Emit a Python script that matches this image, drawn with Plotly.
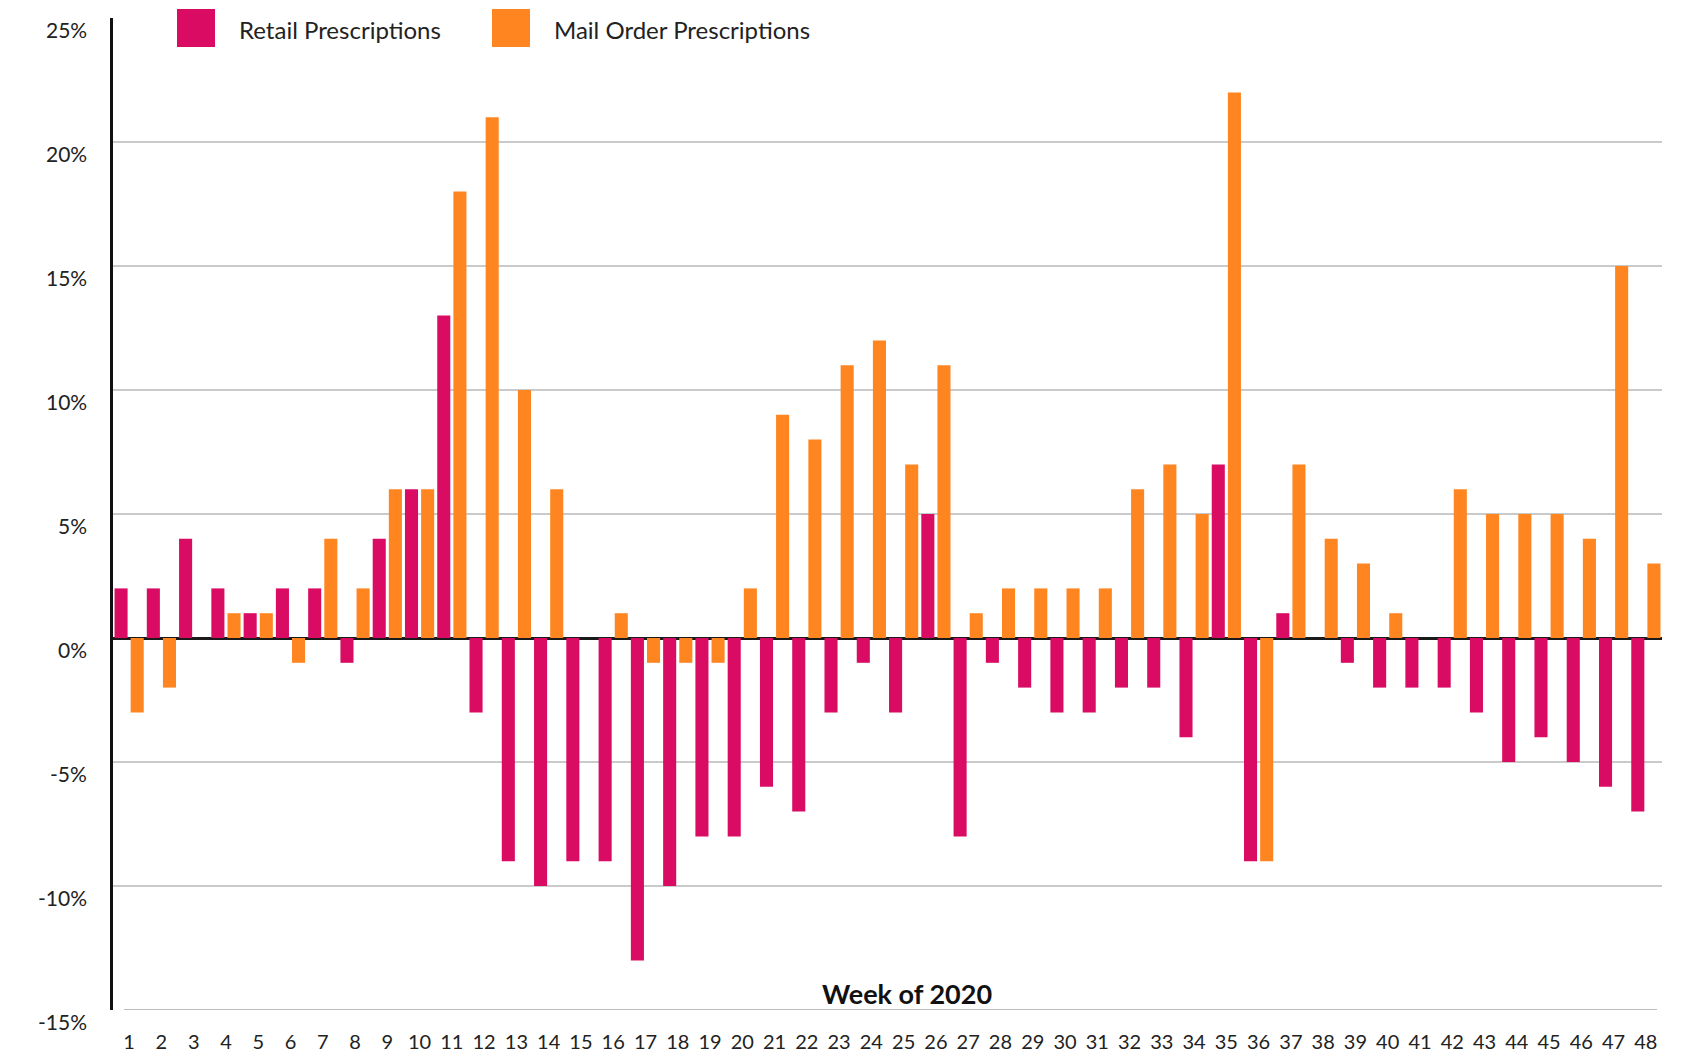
import plotly.graph_objects as go

weeks = [str(i) for i in range(1, 49)]
retail = [2, 2, 4, 2, 1, 2, 2, -1, 4, 6, 13, -3, -9, -10, -9, -9, -13, -10, -8, -8,
          -6, -7, -3, -1, -3, 5, -8, -1, -2, -3, -3, -2, -2, -4, 7, -9, 1, 0, -1, -2,
          -2, -2, -3, -5, -4, -5, -6, -7]
mail = [-3, -2, 0, 1, 1, -1, 4, 2, 6, 6, 18, 21, 10, 6, 0, 1, -1, -1, -1, 2,
        9, 8, 11, 12, 7, 11, 1, 2, 2, 2, 2, 6, 7, 5, 22, -9, 7, 4, 3, 1,
        0, 6, 5, 5, 5, 4, 15, 3]
y_ticks = [-15, -10, -5, 0, 5, 10, 15, 20, 25]
y_tick_text = [f"{v}%" for v in y_ticks]
series_names = ["Retail Prescriptions", "Mail Order Prescriptions"]
colors = ["#D90B63", "#FF8521"]

# page body has an 8px margin; figure offset accordingly
OFF = 8
W, H = 1677, 1045
L, R, T, B = 105, 23, 10, 43

fig = go.Figure()
fig.add_trace(go.Bar(x=weeks, y=retail, name=series_names[0], marker_color=colors[0],
                     marker_line_width=0, showlegend=False))
fig.add_trace(go.Bar(x=weeks, y=mail, name=series_names[1], marker_color=colors[1],
                     marker_line_width=0, showlegend=False))

font_family = "Lato, 'Open Sans', sans-serif"

fig.update_layout(
    width=W, height=H,
    margin=dict(l=L, r=R, t=T, b=B, pad=0, autoexpand=False),
    paper_bgcolor="white", plot_bgcolor="white",
    barmode="group", bargap=0, bargroupgap=0.19,
    font=dict(family=font_family, color="#222222"),
    xaxis=dict(type="category", tickfont=dict(size=20, color="#222222"),
               showgrid=False, showline=False, ticks="", zeroline=False,
               ticklabelstandoff=18, automargin=False),
    yaxis=dict(range=[-15, 25], tickvals=y_ticks, showticklabels=False,
               showgrid=True, gridcolor="#CACACA", gridwidth=1.5,
               zeroline=True, zerolinecolor="#1a1a1a", zerolinewidth=3,
               showline=True, linecolor="#111111", linewidth=2.5,
               ticks="", automargin=False),
)

plot_w = W - L - R
plot_h = H - T - B
def px_to_paper_x(px):
    return (px - OFF - L) / plot_w
def px_to_paper_y(py):
    return (H - B - (py - OFF)) / plot_h

# Y tick labels (sit slightly below their gridlines, as in the original)
for v, t in zip(y_ticks, y_tick_text):
    fig.add_annotation(xref="paper", yref="y", x=0, y=v, text=t, showarrow=False,
                       xanchor="right", yanchor="middle", xshift=-24, yshift=-11,
                       font=dict(size=21, color="#222222", family=font_family))

# bottom baseline at -15%
fig.add_shape(type="line", xref="paper", yref="y",
              x0=px_to_paper_x(124), x1=px_to_paper_x(1657), y0=-15, y1=-15,
              line=dict(color="#BDBDBD", width=2))

# Custom legend (large square swatches)
legend_items = [(177, 237, series_names[0], colors[0]), (492, 552, series_names[1], colors[1])]
for sx, tx, name, col in legend_items:
    fig.add_shape(type="rect", xref="paper", yref="paper",
                  x0=px_to_paper_x(sx), x1=px_to_paper_x(sx + 38),
                  y0=px_to_paper_y(47), y1=px_to_paper_y(9),
                  fillcolor=col, line_width=0, layer="above")
    fig.add_annotation(xref="paper", yref="paper", x=px_to_paper_x(tx), y=px_to_paper_y(29),
                       text=name, showarrow=False, xanchor="left", yanchor="middle",
                       font=dict(size=24, color="#222222", family=font_family))

fig.add_annotation(xref="paper", yref="paper", x=px_to_paper_x(907), y=px_to_paper_y(993),
                   text="<b>Week of 2020</b>", showarrow=False, xanchor="center", yanchor="middle",
                   font=dict(size=27, color="#111111", family=font_family))

fig.write_html("out.html")
